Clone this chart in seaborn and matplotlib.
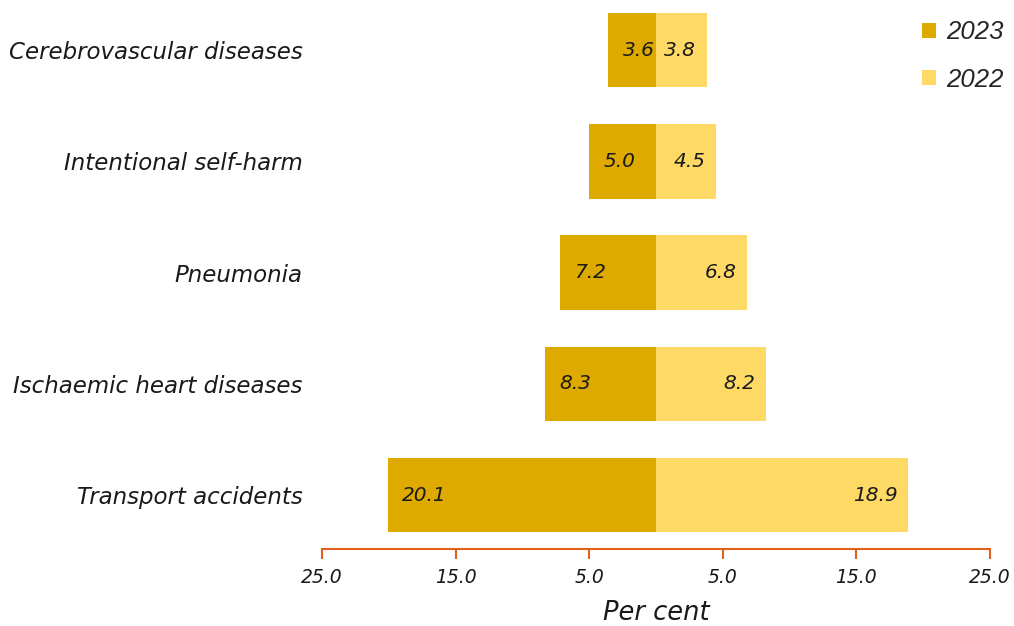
import pandas as pd
import seaborn as sns
from matplotlib import pyplot as plt

# Leading causes of death, per cent of deaths
causes = ['Cerebrovascular diseases', 'Intentional self-harm', 'Pneumonia',
          'Ischaemic heart diseases', 'Transport accidents']
share_2023 = [3.6, 5.0, 7.2, 8.3, 20.1]
share_2022 = [3.8, 4.5, 6.8, 8.2, 18.9]
tick_pos = [-25, -15, -5, 5, 15, 25]
tick_labels = ['25.0', '15.0', '5.0', '5.0', '15.0', '25.0']

dark = '#DFAA00'
light = '#FFD966'
axis_col = '#E0601E'

sns.set_style('white')
plt.rcParams['font.family'] = ['DejaVu Sans']

# 2023 goes to the left, 2022 to the right
df = pd.DataFrame({
    'cause': causes * 2,
    'value': [-v for v in share_2023] + share_2022,
    'year': ['2023'] * len(causes) + ['2022'] * len(causes),
})

fig = plt.figure(figsize=(10.14, 6.26), dpi=100)
ax = fig.add_axes([0.3176, 0.123, 0.6587, 0.877])
sns.barplot(data=df, y='cause', x='value', hue='year', order=causes,
            hue_order=['2023', '2022'], palette=[dark, light], dodge=False,
            width=0.67, orient='h', saturation=1, linewidth=0, ax=ax)

ax.set_xlim(-25, 25)
ax.set_ylim(4.485, -0.45)

# value labels inside the bars
for i, (a, b) in enumerate(zip(share_2023, share_2022)):
    ax.text(-a + 1.1, i, f'{a:.1f}', ha='left', va='center', fontsize=14.5,
            style='italic', color='#1a1a1a')
    ax.text(b - 0.8, i, f'{b:.1f}', ha='right', va='center', fontsize=14.5,
            style='italic', color='#1a1a1a')

ax.set_xticks(tick_pos)
ax.set_xticklabels(tick_labels, fontsize=13.5, style='italic', color='#1a1a1a')
ax.set_yticks(range(len(causes)))
ax.set_yticklabels(causes, fontsize=16.5, style='italic', color='#1a1a1a')
ax.tick_params(axis='y', length=0, pad=14)
ax.tick_params(axis='x', bottom=True, length=7, width=1.5, color=axis_col, pad=7,
               direction='out')
ax.set_ylabel('')
ax.set_xlabel('Per cent', fontsize=18.5, style='italic', color='#1a1a1a', labelpad=9)

for s in ['top', 'right', 'left']:
    ax.spines[s].set_visible(False)
ax.spines['bottom'].set_color(axis_col)
ax.spines['bottom'].set_linewidth(1.5)

leg = ax.legend(loc='upper right', bbox_to_anchor=(1.055, 1.005), frameon=False,
                handlelength=0.55, handleheight=0.55, handletextpad=0.4,
                labelspacing=0.9, prop={'family': 'Liberation Sans', 'style': 'italic', 'size': 18.5})

fig.savefig('out.png', dpi=100)
